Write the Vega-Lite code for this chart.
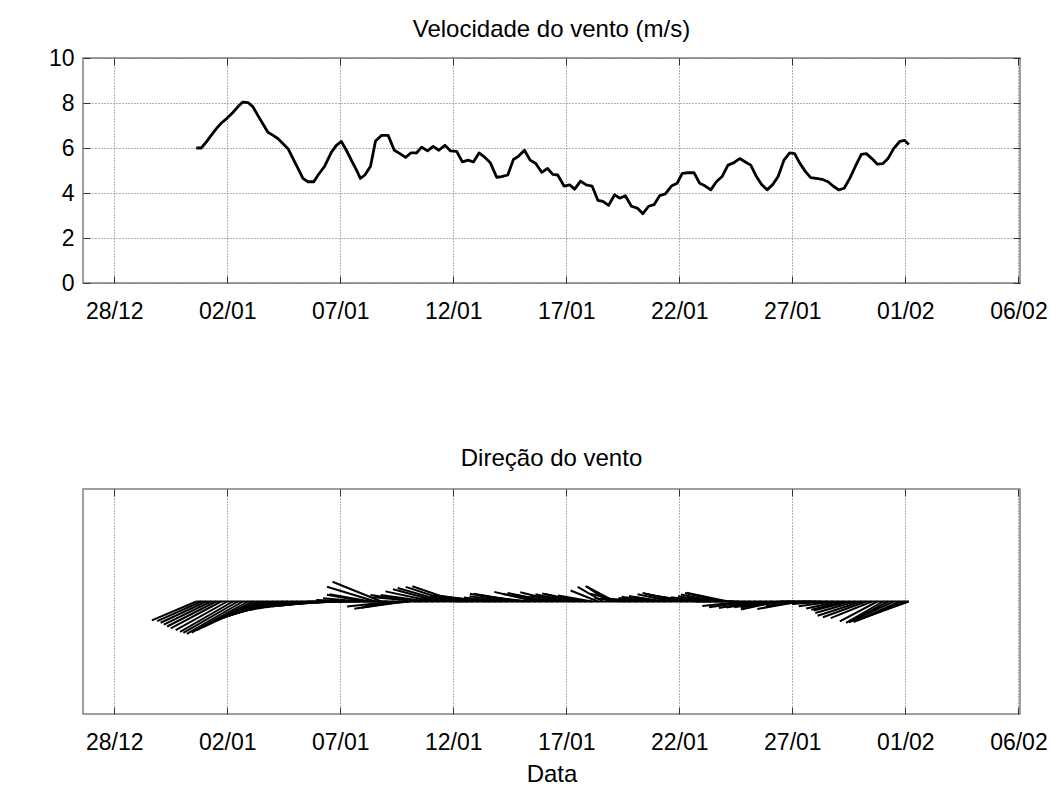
{
  "$schema": "https://vega.github.io/schema/vega-lite/v6.json",
  "background": "white",
  "padding": {"left": 47, "top": 17, "right": 20, "bottom": 5},
  "spacing": 121,
  "config": {
    "font": "Liberation Sans",
    "view": {"stroke": "#808080", "strokeWidth": 1.5},
    "axis": {
      "labelFont": "Liberation Sans", "labelFontSize": 23, "labelColor": "black",
      "gridColor": "#666666", "gridDash": [1, 2], "gridOpacity": 1, "gridWidth": 1,
      "domain": false, "tickColor": "#333333", "tickSize": -7, "tickWidth": 1,
      "labelPadding": 24, "labelFlush": false, "labelOverlap": false, "labelBound": false,
      "titleFont": "Liberation Sans", "titleFontSize": 24, "titleFontWeight": "normal", "titleColor": "black"
    },
    "title": {"font": "Liberation Sans", "fontSize": 24, "fontWeight": "normal", "color": "black"}
  },
  "datasets": {
    "w": [
      {"d":3.63,"s":6.0,"d2":1.666,"v":-2.344},
      {"d":3.85,"s":6.0,"d2":1.901,"v":-2.44},
      {"d":4.07,"s":6.26,"d2":2.053,"v":-2.645},
      {"d":4.29,"s":6.56,"d2":2.193,"v":-2.876},
      {"d":4.51,"s":6.85,"d2":2.34,"v":-3.11},
      {"d":4.73,"s":7.1,"d2":2.501,"v":-3.333},
      {"d":5.0,"s":7.33,"d2":2.72,"v":-3.554},
      {"d":5.25,"s":7.58,"d2":2.916,"v":-3.79},
      {"d":5.47,"s":7.83,"d2":3.059,"v":-3.915},
      {"d":5.69,"s":8.04,"d2":3.214,"v":-4.02},
      {"d":5.92,"s":8.02,"d2":3.426,"v":-3.888},
      {"d":6.14,"s":7.83,"d2":3.659,"v":-3.555},
      {"d":6.36,"s":7.44,"d2":3.962,"v":-3.144},
      {"d":6.58,"s":7.07,"d2":4.249,"v":-2.648},
      {"d":6.8,"s":6.7,"d2":4.561,"v":-2.291},
      {"d":7.03,"s":6.56,"d2":4.811,"v":-2.027},
      {"d":7.25,"s":6.41,"d2":5.059,"v":-1.767},
      {"d":7.47,"s":6.19,"d2":5.334,"v":-1.497},
      {"d":7.69,"s":5.97,"d2":5.614,"v":-1.241},
      {"d":7.91,"s":5.53,"d2":5.98,"v":-1.055},
      {"d":8.13,"s":5.09,"d2":6.348,"v":-0.884},
      {"d":8.35,"s":4.65,"d2":6.717,"v":-0.727},
      {"d":8.57,"s":4.5,"d2":6.985,"v":-0.626},
      {"d":8.83,"s":4.5,"d2":7.242,"v":-0.549},
      {"d":9.02,"s":4.8,"d2":7.322,"v":-0.502},
      {"d":9.31,"s":5.19,"d2":7.471,"v":-0.453},
      {"d":9.61,"s":5.82,"d2":7.545,"v":-0.406},
      {"d":9.83,"s":6.12,"d2":7.657,"v":-0.32},
      {"d":10.05,"s":6.29,"d2":7.815,"v":-0.22},
      {"d":10.27,"s":5.9,"d2":8.172,"v":-0.103},
      {"d":10.49,"s":5.46,"d2":8.548,"v":0},
      {"d":10.72,"s":5.02,"d2":8.936,"v":0.175},
      {"d":10.89,"s":4.65,"d2":9.243,"v":0.405},
      {"d":11.09,"s":4.8,"d2":9.409,"v":0.833},
      {"d":11.34,"s":5.19,"d2":9.523,"v":0.901},
      {"d":11.56,"s":6.31,"d2":9.414,"v":1.845},
      {"d":11.82,"s":6.56,"d2":9.657,"v":2.457},
      {"d":12.12,"s":6.56,"d2":9.787,"v":0},
      {"d":12.39,"s":5.9,"d2":10.304,"v":-0.617},
      {"d":12.64,"s":5.75,"d2":10.62,"v":-0.899},
      {"d":12.89,"s":5.58,"d2":10.925,"v":-0.777},
      {"d":13.12,"s":5.78,"d2":11.072,"v":-0.504},
      {"d":13.37,"s":5.78,"d2":11.335,"v":0.805},
      {"d":13.6,"s":6.04,"d2":11.46,"v":0.527},
      {"d":13.86,"s":5.87,"d2":11.793,"v":0.817},
      {"d":14.11,"s":6.07,"d2":11.999,"v":1.262},
      {"d":14.36,"s":5.9,"d2":12.334,"v":1.527},
      {"d":14.63,"s":6.12,"d2":12.538,"v":1.687},
      {"d":14.88,"s":5.87,"d2":12.895,"v":1.814},
      {"d":15.15,"s":5.85,"d2":13.183,"v":1.905},
      {"d":15.4,"s":5.38,"d2":13.49,"v":0.281},
      {"d":15.66,"s":5.46,"d2":13.723,"v":0.381},
      {"d":15.89,"s":5.38,"d2":13.987,"v":0.562},
      {"d":16.14,"s":5.78,"d2":14.105,"v":0.805},
      {"d":16.4,"s":5.58,"d2":14.431,"v":0.68},
      {"d":16.63,"s":5.36,"d2":14.731,"v":0.467},
      {"d":16.92,"s":4.7,"d2":15.253,"v":0.328},
      {"d":17.14,"s":4.73,"d2":15.467,"v":0.494},
      {"d":17.41,"s":4.8,"d2":15.72,"v":0.668},
      {"d":17.66,"s":5.49,"d2":15.737,"v":0.953},
      {"d":17.88,"s":5.63,"d2":15.908,"v":0.977},
      {"d":18.15,"s":5.9,"d2":16.072,"v":0.821},
      {"d":18.4,"s":5.46,"d2":16.469,"v":0.571},
      {"d":18.65,"s":5.31,"d2":16.81,"v":1.195},
      {"d":18.91,"s":4.92,"d2":17.193,"v":0.939},
      {"d":19.17,"s":5.09,"d2":17.4,"v":1.058},
      {"d":19.4,"s":4.83,"d2":17.709,"v":0.838},
      {"d":19.62,"s":4.8,"d2":17.964,"v":1.161},
      {"d":19.9,"s":4.31,"d2":18.391,"v":0.748},
      {"d":20.15,"s":4.36,"d2":18.634,"v":0.906},
      {"d":20.37,"s":4.17,"d2":18.931,"v":1.009},
      {"d":20.63,"s":4.53,"d2":19.054,"v":0.942},
      {"d":20.88,"s":4.36,"d2":19.345,"v":0.607},
      {"d":21.14,"s":4.31,"d2":19.631,"v":0.748},
      {"d":21.4,"s":3.67,"d2":20.19,"v":1.375},
      {"d":21.62,"s":3.63,"d2":20.502,"v":1.815},
      {"d":21.87,"s":3.45,"d2":20.853,"v":1.929},
      {"d":22.14,"s":3.92,"d2":20.909,"v":1.84},
      {"d":22.36,"s":3.77,"d2":21.065,"v":0.976},
      {"d":22.61,"s":3.88,"d2":21.238,"v":0.405},
      {"d":22.88,"s":3.41,"d2":21.672,"v":0.297},
      {"d":23.14,"s":3.33,"d2":21.962,"v":0.348},
      {"d":23.39,"s":3.08,"d2":22.305,"v":0.429},
      {"d":23.64,"s":3.41,"d2":22.446,"v":0.592},
      {"d":23.88,"s":3.48,"d2":22.655,"v":0.484},
      {"d":24.13,"s":3.88,"d2":22.771,"v":0.674},
      {"d":24.38,"s":3.96,"d2":22.986,"v":0.551},
      {"d":24.65,"s":4.31,"d2":23.151,"v":0.896},
      {"d":24.9,"s":4.43,"d2":23.372,"v":1.072},
      {"d":25.13,"s":4.87,"d2":23.436,"v":1.012},
      {"d":25.38,"s":4.9,"d2":23.664,"v":0.851},
      {"d":25.65,"s":4.9,"d2":23.925,"v":0.682},
      {"d":25.9,"s":4.43,"d2":24.333,"v":0.463},
      {"d":26.15,"s":4.31,"d2":24.629,"v":0.525},
      {"d":26.39,"s":4.14,"d2":24.936,"v":0.647},
      {"d":26.64,"s":4.5,"d2":25.069,"v":0.859},
      {"d":26.89,"s":4.73,"d2":25.251,"v":1.064},
      {"d":27.15,"s":5.24,"d2":25.328,"v":1.089},
      {"d":27.4,"s":5.34,"d2":25.506,"v":0.373},
      {"d":27.67,"s":5.53,"d2":25.704,"v":0},
      {"d":27.92,"s":5.38,"d2":26.017,"v":-0.562},
      {"d":28.16,"s":5.24,"d2":26.315,"v":-0.729},
      {"d":28.41,"s":4.73,"d2":26.754,"v":-0.821},
      {"d":28.63,"s":4.39,"d2":27.093,"v":-0.762},
      {"d":28.88,"s":4.14,"d2":27.43,"v":-0.719},
      {"d":29.12,"s":4.36,"d2":27.585,"v":-0.607},
      {"d":29.37,"s":4.73,"d2":27.725,"v":-0.983},
      {"d":29.63,"s":5.46,"d2":27.707,"v":-0.76},
      {"d":29.88,"s":5.78,"d2":27.83,"v":-0.403},
      {"d":30.1,"s":5.75,"d2":28.057,"v":-0.201},
      {"d":30.32,"s":5.34,"d2":28.45,"v":-0.927},
      {"d":30.58,"s":4.95,"d2":28.83,"v":-0.517},
      {"d":30.81,"s":4.68,"d2":29.147,"v":-0.163},
      {"d":31.06,"s":4.65,"d2":29.407,"v":0},
      {"d":31.31,"s":4.61,"d2":29.672,"v":-0.161},
      {"d":31.58,"s":4.5,"d2":29.984,"v":-0.314},
      {"d":31.8,"s":4.31,"d2":30.282,"v":-0.6},
      {"d":32.05,"s":4.14,"d2":30.61,"v":-0.861},
      {"d":32.29,"s":4.21,"d2":30.837,"v":-1.018},
      {"d":32.54,"s":4.65,"d2":30.936,"v":-1.125},
      {"d":32.79,"s":5.19,"d2":31.016,"v":-1.43},
      {"d":33.05,"s":5.72,"d2":31.115,"v":-1.767},
      {"d":33.27,"s":5.75,"d2":31.349,"v":-1.967},
      {"d":33.52,"s":5.53,"d2":31.697,"v":-2.072},
      {"d":33.76,"s":5.28,"d2":32.102,"v":-2.479},
      {"d":34.01,"s":5.31,"d2":32.375,"v":-2.655},
      {"d":34.23,"s":5.53,"d2":32.494,"v":-2.596},
      {"d":34.48,"s":5.97,"d2":32.556,"v":-2.523},
      {"d":34.75,"s":6.29,"d2":32.707,"v":-2.558},
      {"d":34.97,"s":6.34,"d2":32.88,"v":-2.375},
      {"d":35.15,"s":6.15,"d2":33.095,"v":-2.103}
    ]
  },
  "vconcat": [
    {
      "width": 937,
      "height": 225,
      "title": {"text": "Velocidade do vento (m/s)", "offset": 5},
      "data": {"name": "w"},
      "layer": [
        {
          "mark": {"type": "line", "color": "black", "strokeWidth": 2.8, "strokeJoin": "round"},
          "encoding": {
            "x": {"field": "d", "type": "quantitative",
              "scale": {"domain": [-1.38, 40.07], "nice": false, "zero": false},
              "axis": {"values": [0, 5, 10, 15, 20, 25, 30, 35, 40], "title": null, "grid": true,
                "labelExpr": "timeFormat(datetime(2011, 11, 28 + datum.value), '%d/%m')"}},
            "y": {"field": "s", "type": "quantitative",
              "scale": {"domain": [0, 10], "nice": false},
              "axis": {"values": [0, 2, 4, 6, 8, 10], "title": null, "grid": true, "labelPadding": 16}}
          }
        },
        {
          "mark": {"type": "point", "opacity": 0},
          "encoding": {
            "x": {"field": "d", "type": "quantitative",
              "axis": {"orient": "top", "values": [0, 5, 10, 15, 20, 25, 30, 35, 40], "labels": false, "grid": false, "title": null}},
            "y": {"field": "s", "type": "quantitative",
              "axis": {"orient": "right", "values": [0, 2, 4, 6, 8, 10], "labels": false, "grid": false, "title": null}}
          }
        }
      ],
      "resolve": {"axis": {"x": "independent", "y": "independent"}}
    },
    {
      "width": 937,
      "height": 225,
      "title": {"text": "Direção do vento", "offset": 18},
      "data": {"name": "w"},
      "layer": [
        {
          "mark": {"type": "rule", "color": "black", "strokeWidth": 2},
          "encoding": {
            "x": {"field": "d2", "type": "quantitative",
              "scale": {"domain": [-1.38, 40.07], "nice": false, "zero": false},
              "axis": {"values": [0, 5, 10, 15, 20, 25, 30, 35, 40], "title": "Data", "grid": true, "titlePadding": 8,
                "labelExpr": "timeFormat(datetime(2011, 11, 28 + datum.value), '%d/%m')"}},
            "x2": {"field": "d"},
            "y": {"field": "v", "type": "quantitative", "scale": {"domain": [-14, 14], "nice": false}, "axis": null},
            "y2": {"datum": 0}
          }
        },
        {
          "mark": {"type": "line", "color": "black", "strokeWidth": 2.2},
          "encoding": {
            "x": {"field": "d", "type": "quantitative", "axis": null},
            "y": {"datum": 0, "type": "quantitative", "axis": null}
          }
        },
        {
          "mark": {"type": "point", "opacity": 0},
          "encoding": {
            "x": {"field": "d", "type": "quantitative",
              "axis": {"orient": "top", "values": [0, 5, 10, 15, 20, 25, 30, 35, 40], "labels": false, "grid": false, "title": null}}
          }
        }
      ],
      "resolve": {"axis": {"x": "independent"}}
    }
  ]
}
